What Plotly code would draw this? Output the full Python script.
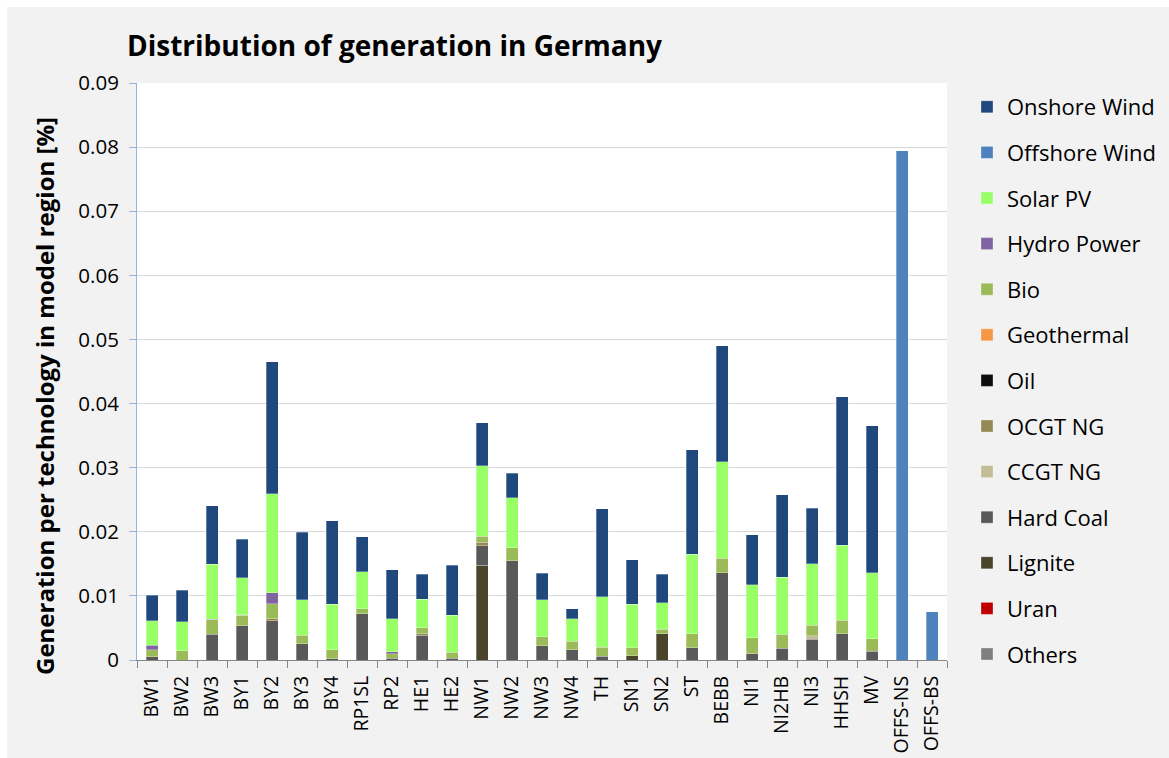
import plotly.graph_objects as go

regions = ["BW1", "BW2", "BW3", "BY1", "BY2", "BY3", "BY4", "RP1SL", "RP2", "HE1", "HE2",
           "NW1", "NW2", "NW3", "NW4", "TH", "SN1", "SN2", "ST", "BEBB", "NI1", "NI2HB",
           "NI3", "HHSH", "MV", "OFFS-NS", "OFFS-BS"]

others     = [0] * 27
uran       = [0] * 27
lignite    = [0, 0, 0, 0, 0, 0, 0, 0, 0, 0, 0, 0.0148, 0, 0, 0, 0, 0.0007, 0.0041, 0, 0, 0, 0, 0, 0, 0, 0, 0]
hard_coal  = [0.0005, 0, 0.00405, 0.00536, 0.0061, 0.0025, 0.0002, 0.0072, 0.0003, 0.0039, 0.0003,
              0.0030, 0.0155, 0.0022, 0.0016, 0.0006, 0, 0, 0.0019, 0.0136, 0.0010, 0.0018,
              0.0032, 0.0041, 0.0014, 0, 0]
ccgt_ng    = [0, 0, 0, 0, 0, 0, 0, 0, 0, 0, 0, 0, 0, 0, 0, 0, 0, 0, 0, 0, 0, 0, 0.0006, 0, 0, 0, 0]
ocgt_ng    = [0, 0, 0, 0, 0.0003, 0, 0, 0, 0, 0.0002, 0, 0.0006, 0, 0, 0, 0, 0, 0, 0, 0, 0, 0, 0, 0, 0, 0, 0]
oil        = [0] * 27
geothermal = [0] * 27
bio        = [0.0011, 0.00145, 0.0022, 0.0016, 0.0024, 0.0014, 0.0014, 0.0008, 0.0007, 0.0009, 0.0009,
              0.0009, 0.0020, 0.0014, 0.0013, 0.0014, 0.0012, 0.0007, 0.0022, 0.0023, 0.0025, 0.0022,
              0.0016, 0.0021, 0.0019, 0, 0]
hydro      = [0.0007, 0, 0.0001, 0.0001, 0.0017, 0, 0, 0, 0.0003, 0, 0, 0, 0, 0, 0, 0, 0, 0, 0, 0,
              0, 0, 0, 0, 0, 0, 0]
solar_pv   = [0.0038, 0.00455, 0.0086, 0.0058, 0.0154, 0.0055, 0.0071, 0.0058, 0.0051, 0.0045, 0.0058,
              0.0110, 0.0078, 0.0058, 0.0035, 0.0079, 0.0068, 0.0041, 0.0124, 0.0150, 0.0082, 0.0089,
              0.0096, 0.0117, 0.0103, 0, 0]
offshore   = [0] * 25 + [0.0794, 0.0075]
onshore    = [0.0040, 0.0049, 0.0091, 0.0060, 0.0206, 0.0105, 0.0130, 0.0054, 0.0077, 0.0039, 0.0078,
              0.0067, 0.0038, 0.0041, 0.0016, 0.0137, 0.0069, 0.0045, 0.0163, 0.0181, 0.0078, 0.0129,
              0.0087, 0.0232, 0.0229, 0, 0]

y_ticks = [0, 0.01, 0.02, 0.03, 0.04, 0.05, 0.06, 0.07, 0.08, 0.09]
y_tick_labels = ["0", "0.01", "0.02", "0.03", "0.04", "0.05", "0.06", "0.07", "0.08", "0.09"]

# stacking order bottom -> top
series = [
    ("Others", others, "#7f7f7f"),
    ("Uran", uran, "#c00000"),
    ("Lignite", lignite, "#4a452a"),
    ("Hard Coal", hard_coal, "#595959"),
    ("CCGT NG", ccgt_ng, "#c4bd97"),
    ("OCGT NG", ocgt_ng, "#948a54"),
    ("Oil", oil, "#0d0d0d"),
    ("Geothermal", geothermal, "#f79646"),
    ("Bio", bio, "#9bbb59"),
    ("Hydro Power", hydro, "#8064a2"),
    ("Solar PV", solar_pv, "#99ff66"),
    ("Offshore Wind", offshore, "#4f81bd"),
    ("Onshore Wind", onshore, "#1f497d"),
]

FONT = "Open Sans"
W, H = 1169, 758
L, R, T, B = 137, 222, 83, 98
PW, PH = W - L - R, H - T - B


def px_x(px):
    return (px - L) / PW


def px_y(py):
    return (H - B - py) / PH


fig = go.Figure()
n = len(series)
for i, (name, vals, color) in enumerate(series):
    fig.add_trace(go.Bar(
        x=regions,
        y=[v if v else None for v in vals],
        name=name,
        legendgroup=name,
        legendrank=n - i,
        marker=dict(color=color, line=dict(width=0.5, color="rgba(255,255,255,0.6)")),
        width=0.4,
    ))

shapes = [
    dict(type="rect", xref="paper", yref="paper", x0=px_x(0), x1=px_x(7), y0=px_y(H), y1=px_y(0),
         fillcolor="white", line=dict(width=0), layer="above"),
    dict(type="rect", xref="paper", yref="paper", x0=px_x(0), x1=px_x(W), y0=px_y(7), y1=px_y(0),
         fillcolor="white", line=dict(width=0), layer="above"),
]

fig.update_layout(
    width=W, height=H,
    margin=dict(l=L, r=R, t=T, b=B, pad=0, autoexpand=False),
    paper_bgcolor="#f2f2f2",
    plot_bgcolor="white",
    barmode="stack",
    font=dict(family=FONT, size=20, color="black"),
    title=dict(text="<b>Distribution of generation in Germany</b>",
               font=dict(family=FONT, size=28, color="black"),
               x=127 / W, xref="container", xanchor="left", y=1 - 46 / H, yref="container", yanchor="middle"),
    xaxis=dict(
        type="category", tickangle=-90, showgrid=False, automargin=False,
        showline=True, linecolor="#868686", linewidth=1,
        ticks="outside", ticklen=7, tickcolor="#868686", tickson="boundaries",
        tickfont=dict(family=FONT, size=19.5, color="black"),
        ticklabelstandoff=7,
        range=[-0.5, len(regions) - 0.5],
    ),
    yaxis=dict(
        range=[0, 0.09], tickvals=y_ticks, ticktext=y_tick_labels, automargin=False,
        showgrid=True, gridcolor="#d9d9d9", gridwidth=1,
        showline=True, linecolor="#95b3d7", linewidth=1,
        ticks="outside", ticklen=7, tickcolor="#95b3d7",
        tickfont=dict(family=FONT, size=20.5, color="black"),
        ticklabelstandoff=6,
        zeroline=False,
    ),
    legend=dict(
        x=967 / W, xref="container", xanchor="left",
        y=1 - 86 / H, yref="container", yanchor="top",
        maxheight=720,
        traceorder="grouped", tracegroupgap=14,
        font=dict(family=FONT, size=22, color="black"),
        bgcolor="rgba(0,0,0,0)", itemwidth=30,
    ),
    annotations=[dict(
        text="<b>Generation per technology in model region [%]</b>",
        xref="paper", yref="paper", x=px_x(44), y=px_y(396), textangle=-90,
        showarrow=False, xanchor="center", yanchor="middle",
        font=dict(family=FONT, size=24, color="black"),
    )],
    shapes=shapes,
    showlegend=True,
)

fig.write_html("out.html", config={"displayModeBar": False},
               post_script="document.body.style.margin='0';document.body.style.overflow='hidden';")
